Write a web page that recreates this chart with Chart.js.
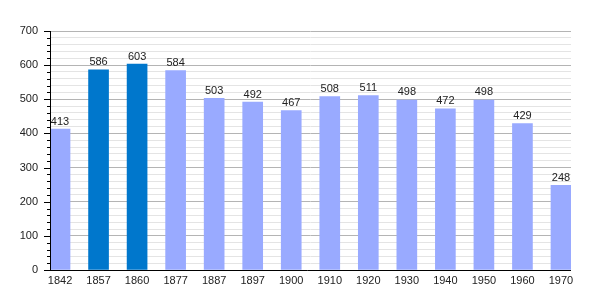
<!DOCTYPE html>
<html><head><meta charset="utf-8">
<script src="https://cdn.jsdelivr.net/npm/chart.js@4/dist/chart.umd.min.js"></script>
<style>html,body{margin:0;padding:0;background:#fff}#wrap{width:600px;height:300px}</style>
</head><body><div id="wrap"><canvas id="c" width="600" height="300"></canvas></div>
<script>
const years = ['1842','1857','1860','1877','1887','1897','1900','1910','1920','1930','1940','1950','1960','1970'];
const population = [413,586,603,584,503,492,467,508,511,498,472,498,429,248];
const highlighted = ['1857','1860'];
const yTicks = [0,100,200,300,400,500,600,700];

const LIGHT = '#99aaff', DARK = '#0077cc';
const FONT = '"Liberation Sans", Arial, sans-serif';

const barData = population.map((v,i)=>({x:i,y:v}));

const valueLabels = {
  id:'valueLabels',
  afterDatasetsDraw(chart){
    const ctx = chart.ctx;
    const meta = chart.getDatasetMeta(0);
    ctx.save();
    ctx.font = '11px ' + FONT;
    ctx.fillStyle = '#222';
    ctx.textAlign = 'center';
    ctx.textBaseline = 'bottom';
    meta.data.forEach((el,i)=>{
      ctx.fillText(String(population[i]), el.x, el.y - 2);
    });
    ctx.restore();
  }
};

const axisTicks = {
  id:'axisTicks',
  afterDraw(chart){
    const ctx = chart.ctx;
    const ys = chart.scales.y;
    const xs = chart.scales.x;
    ctx.save();
    ctx.strokeStyle = '#000';
    ctx.lineWidth = 1;
    ys.ticks.forEach(t=>{
      const py = Math.round(ys.getPixelForValue(t.value)) + 0.5;
      const len = (t.value % 100 === 0) ? 6 : 3;
      ctx.beginPath();
      ctx.moveTo(xs.left - len, py);
      ctx.lineTo(xs.left, py);
      ctx.stroke();
    });
    const x0 = Math.round(xs.left) + 0.5;
    ctx.beginPath();
    ctx.moveTo(x0, ys.top);
    ctx.lineTo(x0, ys.bottom);
    ctx.stroke();
    const yb = Math.round(ys.bottom) + 0.5;
    ctx.beginPath();
    ctx.moveTo(xs.left - 6, yb);
    ctx.lineTo(xs.right, yb);
    ctx.stroke();
    ctx.restore();
  }
};

new Chart(document.getElementById('c'), {
  type:'bar',
  data:{
    datasets:[{
      data: barData,
      backgroundColor: years.map(y=>highlighted.includes(y)?DARK:LIGHT),
      borderWidth:0,
      barThickness:20
    }]
  },
  options:{
    responsive:false,
    animation:false,
    events:[],
    layout:{padding:{top:31,right:29,left:0,bottom:0}},
    plugins:{legend:{display:false},tooltip:{enabled:false}},
    scales:{
      x:{
        type:'linear',
        offset:false,
        min:-0.26, max:13.26,
        afterBuildTicks(scale){ scale.ticks = years.map((y,i)=>({value:i})); },
        afterFit(scale){ scale.height = 30; },
        grid:{display:false, drawTicks:false, offset:false},
        border:{display:false},
        ticks:{
          callback:(v)=>years[Math.round(v)],
          font:{family:FONT,size:11}, color:'#222', padding:4, maxRotation:0, autoSkip:false
        }
      },
      y:{
        min:0, max:700,
        afterBuildTicks(scale){
          const t=[]; for(let v=0; v<=700; v+=20) t.push({value:v});
          scale.ticks = t;
        },
        afterFit(scale){ scale.width = 50; },
        border:{display:false},
        grid:{
          drawTicks:false,
          color:(c)=> (c.tick && c.tick.value % 100 === 0) ? '#b4b4b4' : '#e4e4e4',
          lineWidth:1
        },
        ticks:{
          callback:(v)=> (yTicks.includes(v) ? String(v) : ''),
          font:{family:FONT,size:11}, color:'#222', padding:12, autoSkip:false
        }
      }
    }
  },
  plugins:[valueLabels, axisTicks]
});
</script></body></html>
